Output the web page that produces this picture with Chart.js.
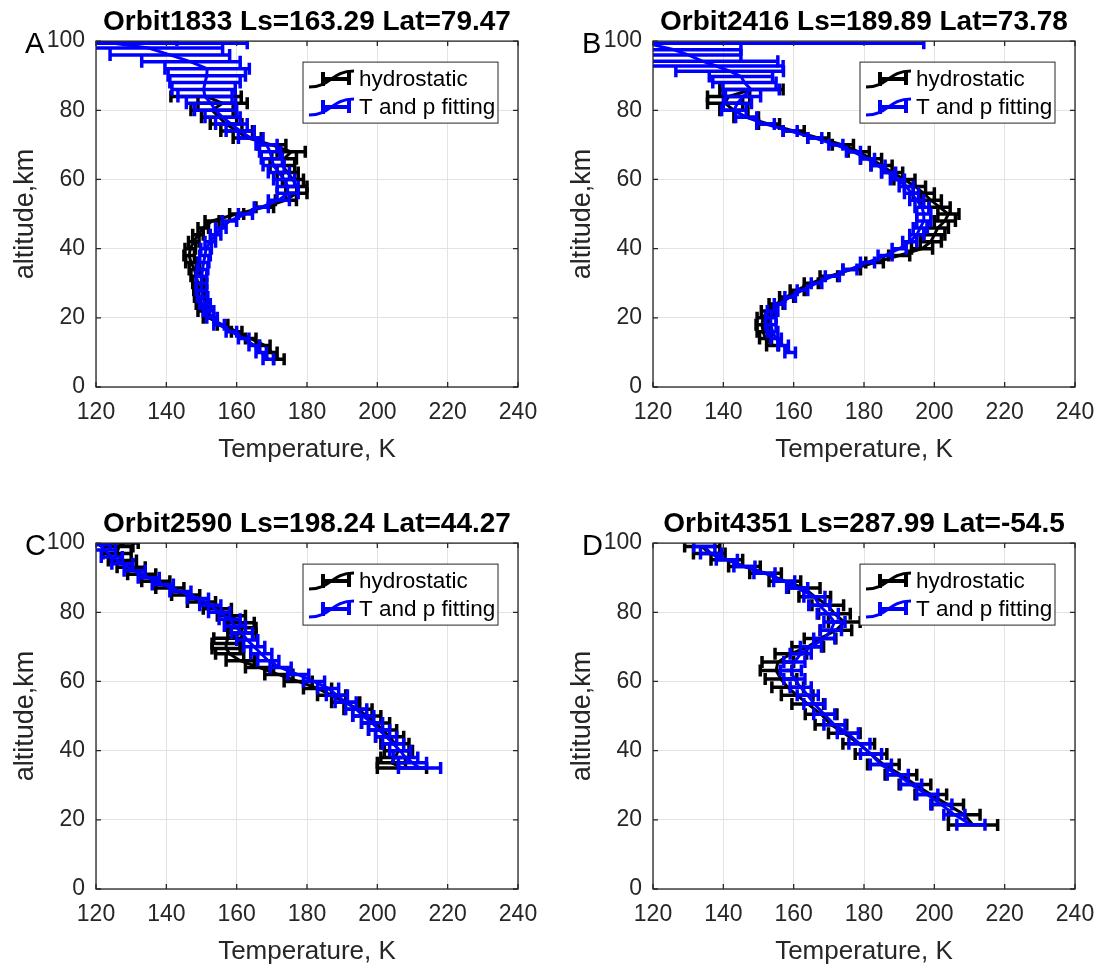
<!DOCTYPE html>
<html>
<head>
<meta charset="utf-8">
<script src="https://cdn.jsdelivr.net/npm/chart.js@4.4.0/dist/chart.umd.min.js"></script>
<style>
  body { margin: 0; background: #fff; }
  .panel { position: absolute; }
</style>
</head>
<body>
<canvas id="pA" class="panel" width="542" height="466" style="left:0px;top:0px"></canvas>
<canvas id="pB" class="panel" width="542" height="466" style="left:557px;top:0px"></canvas>
<canvas id="pC" class="panel" width="542" height="466" style="left:0px;top:502px"></canvas>
<canvas id="pD" class="panel" width="542" height="466" style="left:557px;top:502px"></canvas>
<script>
// axis ticks
const tempTicks = [120, 140, 160, 180, 200, 220, 240];
const altTicks = [0, 20, 40, 60, 80, 100];
const seriesNames = ['hydrostatic', 'T and p fitting'];

// panel A  Orbit1833
const altA_h = [8, 10, 12, 14, 16, 18, 20, 22, 24, 26, 28, 30, 32, 34, 36, 38, 40, 42, 44, 46, 48, 50, 52, 54, 56, 58, 60, 62, 64, 66, 68, 70, 72, 74, 76, 78, 80, 82, 84];
const tA_h = [172, 170, 168, 164, 160, 156, 152, 150.5, 150, 149.5, 149.3, 149, 148.5, 148, 147, 146.5, 146.8, 147.8, 149, 150.5, 153, 160, 168, 174, 177, 177, 176, 174.5, 173, 173.5, 175.5, 170, 163, 160, 157, 155, 153, 156, 151.3];
const eA_h = [1.5, 1.5, 1.5, 1.5, 1.5, 1.5, 1.5, 1.5, 1.5, 1.5, 1.5, 1.5, 1.5, 1.5, 1.5, 1.5, 1.5, 1.5, 1.5, 1.5, 2, 2, 2.5, 3, 3, 3, 3, 3, 3.5, 3.5, 4, 4, 4, 4.5, 4.5, 5, 6, 7, 10];
const altA_f = [8, 10, 12, 14, 16, 18, 20, 22, 24, 26, 28, 30, 32, 34, 36, 38, 40, 42, 44, 46, 48, 50, 52, 54, 56, 58, 60, 62, 64, 66, 68, 70, 72, 74, 76, 78, 80, 82, 84, 86, 88, 90, 92, 94, 96, 98, 99.4, 100.3];
const tA_f = [169, 167, 165, 162, 158.5, 155, 153, 152, 151, 150.3, 150, 150, 150, 150.3, 150.6, 151, 151.3, 152.5, 154, 155.5, 158, 162.5, 167, 172, 174.5, 174.5, 173.5, 172, 170.5, 170, 169.5, 168.5, 164, 161, 158.5, 156, 154, 152.7, 151, 150.6, 151, 151.5, 151.6, 147, 141, 135, 125, 120];
const eA_f = [1.5, 1.5, 1.5, 1.5, 1.5, 1.5, 1.5, 1.5, 1.5, 1.5, 1.5, 1.5, 1.5, 1.5, 1.5, 1.5, 1.5, 1.5, 1.5, 1.5, 2, 2, 2, 3, 3, 3, 3, 3, 3, 3, 3, 3, 3.5, 4, 4.5, 5, 6, 7, 7.7, 9, 10, 11, 12, 14, 17, 21, 38, 23];

// panel B  Orbit2416
const altB_h = [12, 14, 16, 18, 20, 22, 24, 26, 28, 30, 32, 34, 36, 38, 40, 42, 44, 46, 48, 50, 52, 54, 56, 58, 60, 62, 64, 66, 68, 70, 72, 74, 76, 78, 80, 82, 84, 86];
const tB_h = [154, 152, 151.3, 151, 151.3, 152.5, 155, 158, 161, 165, 170, 176.5, 183, 190, 196.5, 199, 200, 201, 203, 204, 201.5, 199, 197, 194.5, 191.5, 188, 185, 182, 178.5, 174, 167, 160, 153, 146.5, 143, 140.5, 141.5, 148];
const eB_h = [1.7, 1.7, 1.7, 1.7, 1.7, 1.7, 2, 2, 2, 2, 2.5, 2.5, 2.5, 3, 3, 3, 3, 3, 3, 3, 3, 3, 3, 3, 3, 3, 3, 3, 3, 3, 3, 3, 3, 3.5, 4, 5, 6, 9];
const altB_f = [10, 12, 14, 16, 18, 20, 22, 24, 26, 28, 30, 32, 34, 36, 38, 40, 42, 44, 46, 48, 50, 52, 54, 56, 58, 60, 62, 64, 66, 68, 70, 72, 74, 76, 78, 80, 82, 84, 86, 88, 89.8, 91.3, 92.8, 94.2, 96, 97.5, 99.4];
const tB_f = [159, 157, 155, 154, 153.5, 153.5, 154, 156, 159, 162.5, 166.5, 171, 176, 181, 186, 190, 193, 195, 196, 197, 197, 196.5, 195, 193.5, 192, 189.5, 187, 184, 181, 177, 172, 166, 159, 152, 146.5, 143, 144, 145.6, 147.9, 146, 145, 141.8, 138, 134, 130, 126, 118];
const eB_f = [1.5, 1.5, 1.5, 1.5, 1.5, 1.5, 1.5, 1.5, 1.5, 1.5, 1.5, 2, 2, 2, 2, 2, 2, 2, 2, 2, 2, 2, 2, 2, 2, 2, 2, 2, 2, 2, 2, 2, 2, 2.5, 3, 3.5, 4, 5, 8, 9, 9, 15.3, 19, 21.5, 15, 19, 79];

// panel C  Orbit2590
const altC_h = [35, 36.5, 38, 40, 42, 44, 46, 48, 50, 52, 54, 56, 58, 60, 62, 64, 66, 68, 69.5, 71, 72.5, 74, 75.5, 77, 79, 81, 83, 85, 87, 89, 91, 93, 95, 97, 99, 100];
const tC_h = [207, 204, 205, 206, 205, 203.5, 201.5, 199.5, 197, 194.5, 191, 187, 183, 177.5, 172, 166.5, 161, 158, 157, 157, 157.5, 161.5, 161.5, 161, 158.5, 154.5, 150, 145.5, 141, 137, 133, 130, 127.5, 126, 126.5, 128];
const eC_h = [7, 4, 4, 4, 4, 4, 4, 4, 4, 4, 4, 4, 4, 4, 4, 4, 4, 4, 4, 4, 4, 4, 4, 4, 4, 4, 4, 4, 4, 4, 4, 4, 4, 4, 4, 4];
const altC_f = [35, 36.5, 38, 40, 42, 44, 46, 48, 50, 52, 54, 56, 58, 60, 62, 64, 66, 68, 70, 72, 74, 76, 78, 80, 82, 84, 86, 88, 90, 92, 94, 96, 98, 99.5];
const tC_f = [212, 210, 208, 206.5, 204.5, 202.5, 200.5, 198.5, 196, 194, 191, 188.5, 186, 182, 177.5, 172.5, 169, 167, 165, 163, 161.5, 159.5, 158, 155, 152.5, 149, 144, 139, 135, 131, 127.5, 124.5, 122.5, 121];
const eC_f = [6, 4, 3.5, 3, 3, 3, 3, 3, 3, 3, 3, 3, 3, 3, 3, 3, 3, 3, 3, 3, 3, 3, 3, 3, 3, 3, 3, 3, 3, 3, 3, 3, 3, 3];

// panel D  Orbit4351
const altD_h = [18.5, 21.5, 24.4, 27.3, 30.2, 33, 36, 39, 42, 45, 47.5, 50.5, 53.5, 56, 58.3, 60.7, 63.2, 65.6, 68, 70, 72.4, 74.8, 77.2, 79.6, 82, 84.5, 87, 89, 91.3, 93.2, 95.2, 97, 99];
const tD_h = [211, 208.5, 203.8, 199, 194.5, 190.5, 185.5, 182, 178.5, 174.4, 170.6, 167.8, 164, 161, 158.3, 156.4, 155, 155.5, 159.2, 164, 167.5, 172, 174.4, 171.6, 169.7, 166, 163, 157.5, 152, 146, 141, 136, 134];
const eD_h = [7, 4.5, 4.5, 4.5, 4.5, 4.5, 4.5, 4.5, 4.5, 4.5, 4.5, 4.5, 4.5, 4.5, 4.5, 4.5, 4.5, 4.5, 4.5, 4.5, 4.5, 4.5, 4.5, 4.5, 4.5, 4.5, 4.5, 4.5, 4.5, 4.5, 4.5, 4.5, 5];
const altD_f = [18.6, 21.5, 24.4, 27.3, 30.2, 33, 36, 39, 42, 45, 47.5, 50.5, 53.5, 56, 58.3, 60.7, 63.2, 65.6, 68, 70, 72.4, 74.8, 77.2, 79.6, 82, 84.5, 87, 89, 91.3, 93.2, 95.2, 97, 99];
const tD_f = [210.4, 205.7, 202, 198, 193.4, 189.6, 184.8, 182, 178.7, 175.4, 171.6, 168.7, 165.9, 164, 162, 160.2, 159.2, 160.2, 162, 164.9, 168.7, 170.6, 171.6, 169.7, 167.3, 165.9, 161, 157.3, 151.7, 146, 141, 136.5, 134.6];
const eD_f = [4, 3, 3, 3, 3, 3, 3, 3, 3, 3, 3, 3, 3, 3, 3, 3, 3, 3, 3, 3, 3, 3, 3, 3, 3, 3, 3, 3, 3, 3, 3, 3, 3];

Chart.defaults.font.family = "'Liberation Sans', Arial, sans-serif";

function pts(alt, t) {
  return alt.map((a, i) => ({ x: t[i], y: a }));
}

// horizontal error bars, drawn under each dataset's line
const errorBars = {
  id: 'errorBars',
  beforeDatasetDraw(chart, args) {
    const ds = chart.data.datasets[args.index];
    const xs = chart.scales.x, ys = chart.scales.y;
    const a = chart.chartArea;
    const c = chart.ctx;
    c.save();
    c.beginPath();
    c.rect(a.left, a.top, a.right - a.left, a.bottom - a.top);
    c.clip();
    c.strokeStyle = ds.borderColor;
    c.lineWidth = 3.5;
    ds.data.forEach((p, i) => {
      const e = ds.err[i];
      const x0 = xs.getPixelForValue(p.x - e);
      const x1 = xs.getPixelForValue(p.x + e);
      const py = ys.getPixelForValue(p.y);
      c.beginPath();
      c.moveTo(x0, py); c.lineTo(x1, py);
      c.moveTo(x0, py - 6); c.lineTo(x0, py + 6);
      c.moveTo(x1, py - 6); c.lineTo(x1, py + 6);
      c.stroke();
    });
    c.restore();
  }
};

// box, inner ticks, legend and panel letter
const frame = {
  id: 'frame',
  afterDraw(chart, args, opts) {
    const c = chart.ctx;
    const a = chart.chartArea;
    const xs = chart.scales.x, ys = chart.scales.y;
    c.save();
    c.strokeStyle = '#262626';
    c.lineWidth = 1.3;
    c.strokeRect(a.left, a.top, a.right - a.left, a.bottom - a.top);
    c.beginPath();
    tempTicks.forEach(v => {
      const px = xs.getPixelForValue(v);
      c.moveTo(px, a.bottom); c.lineTo(px, a.bottom - 5);
      c.moveTo(px, a.top); c.lineTo(px, a.top + 5);
    });
    altTicks.forEach(v => {
      const py = ys.getPixelForValue(v);
      c.moveTo(a.left, py); c.lineTo(a.left + 5, py);
      c.moveTo(a.right, py); c.lineTo(a.right - 5, py);
    });
    c.stroke();

    // legend
    const lw = 195, lh = 61;
    const lx = a.right - 20 - lw, ly = a.top + 21;
    c.fillStyle = '#fff';
    c.fillRect(lx, ly, lw, lh);
    c.lineWidth = 1;
    c.strokeStyle = '#262626';
    c.strokeRect(lx, ly, lw, lh);
    chart.data.datasets.forEach((ds, i) => {
      const cy = ly + 17 + i * 28;
      const x0 = lx + 6;
      c.strokeStyle = ds.borderColor;
      c.lineWidth = 3;
      c.beginPath();
      c.moveTo(x0, cy + 8);
      c.bezierCurveTo(x0 + 22, cy + 8, x0 + 22, cy - 8, x0 + 45, cy - 8);
      c.stroke();
      c.lineWidth = 4;
      c.beginPath();
      c.moveTo(x0 + 14, cy); c.lineTo(x0 + 40, cy);
      c.moveTo(x0 + 14, cy - 7); c.lineTo(x0 + 14, cy + 7);
      c.moveTo(x0 + 40, cy - 8); c.lineTo(x0 + 40, cy + 6);
      c.stroke();
      c.fillStyle = '#000';
      c.font = "22.5px 'Liberation Sans', Arial, sans-serif";
      c.textAlign = 'left';
      c.textBaseline = 'middle';
      c.fillText(seriesNames[i], x0 + 50, cy + 1);
    });

    // panel letter
    c.fillStyle = '#000';
    c.font = "29px 'Liberation Sans', Arial, sans-serif";
    c.textAlign = 'left';
    c.textBaseline = 'alphabetic';
    c.fillText(opts.letter, 25, 53);
    c.restore();
  }
};

function makePanel(id, letter, title, hAlt, hT, hErr, fAlt, fT, fErr) {
  return new Chart(document.getElementById(id), {
    type: 'scatter',
    data: {
      datasets: [
        { label: seriesNames[0], data: pts(hAlt, hT), err: hErr, showLine: true,
          borderColor: '#000000', backgroundColor: '#000000', borderWidth: 3, pointRadius: 0, order: 2 },
        { label: seriesNames[1], data: pts(fAlt, fT), err: fErr, showLine: true,
          borderColor: '#0000ff', backgroundColor: '#0000ff', borderWidth: 3, pointRadius: 0, order: 1 }
      ]
    },
    options: {
      responsive: false,
      animation: false,
      layout: { padding: { left: 0, right: 24, top: 0, bottom: 0 } },
      plugins: {
        legend: { display: false },
        tooltip: { enabled: false },
        title: { display: true, fullSize: false, text: title, color: '#000',
          font: { size: 28, weight: 'bold' }, padding: { top: 5, bottom: 2.5 } },
        frame: { letter: letter }
      },
      scales: {
        x: {
          type: 'linear', min: 120, max: 240,
          afterBuildTicks: s => { s.ticks = tempTicks.map(v => ({ value: v })); },
          ticks: { padding: 12, color: '#262626', font: { size: 23 } },
          grid: { color: '#e3e3e3', drawTicks: false },
          border: { display: false },
          title: { display: true, text: 'Temperature, K', color: '#262626',
            font: { size: 26 }, padding: { top: 0, bottom: 1 } },
          afterFit: s => { s.height = 79; s.paddingLeft = 0; s.paddingRight = 0; }
        },
        y: {
          type: 'linear', min: 0, max: 100,
          afterBuildTicks: s => { s.ticks = altTicks.map(v => ({ value: v })); },
          ticks: { padding: 11, color: '#262626', font: { size: 23 } },
          grid: { color: '#e3e3e3', drawTicks: false },
          border: { display: false },
          title: { display: true, text: 'altitude,km', color: '#262626',
            font: { size: 27 }, padding: { top: 9, bottom: 0 } },
          afterFit: s => { s.width = 96; s.paddingTop = 0; s.paddingBottom = 0; }
        }
      }
    },
    plugins: [errorBars, frame]
  });
}

makePanel('pA', 'A', 'Orbit1833 Ls=163.29 Lat=79.47', altA_h, tA_h, eA_h, altA_f, tA_f, eA_f);
makePanel('pB', 'B', 'Orbit2416 Ls=189.89 Lat=73.78', altB_h, tB_h, eB_h, altB_f, tB_f, eB_f);
makePanel('pC', 'C', 'Orbit2590 Ls=198.24 Lat=44.27', altC_h, tC_h, eC_h, altC_f, tC_f, eC_f);
makePanel('pD', 'D', 'Orbit4351 Ls=287.99 Lat=-54.5', altD_h, tD_h, eD_h, altD_f, tD_f, eD_f);
</script>
</body>
</html>
